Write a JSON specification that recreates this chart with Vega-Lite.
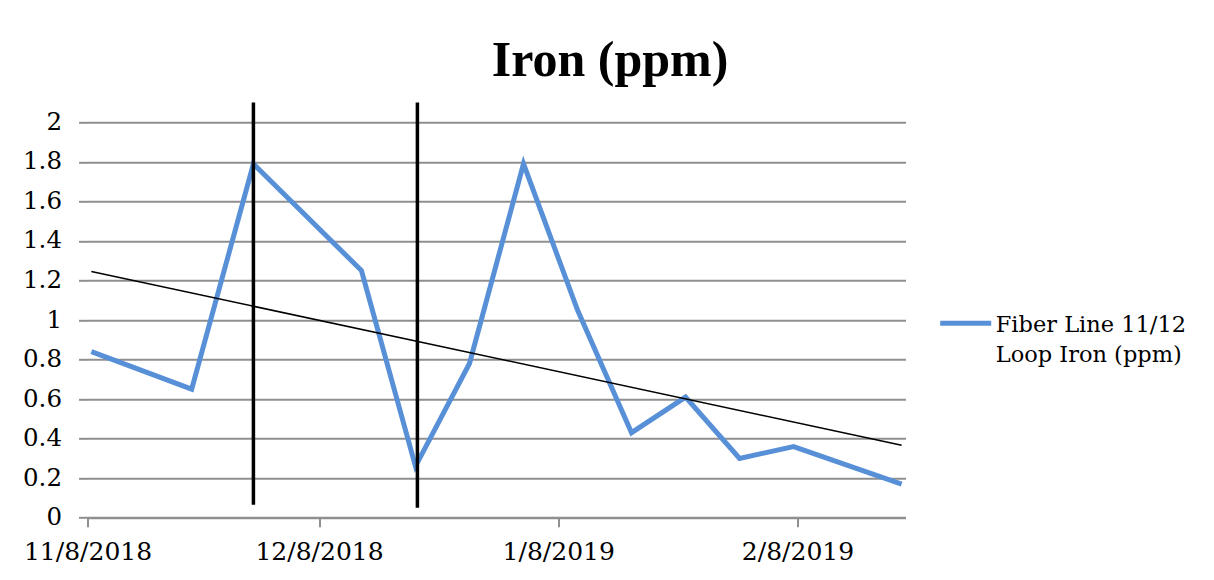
{
  "$schema": "https://vega.github.io/schema/vega-lite/v6.json",
  "width": 818,
  "height": 395.4,
  "autosize": {"type": "none"},
  "padding": {"left": 87.5, "top": 122.3, "right": 308.5, "bottom": 62.3},
  "background": "white",
  "config": {"view": {"stroke": null}, "font": "DejaVu Serif"},
  "title": {
    "text": "Iron (ppm)",
    "font": "Liberation Serif",
    "fontSize": 50,
    "fontWeight": "bold",
    "color": "black",
    "anchor": "middle",
    "dx": 113.5,
    "baseline": "alphabetic",
    "offset": -25
  },
  "data": {
    "values": [
      {"date": "2018-11-08T12:00", "iron": 0.84, "series": "Fiber Line 11/12 Loop Iron (ppm)"},
      {"date": "2018-11-21T12:00", "iron": 0.65, "series": "Fiber Line 11/12 Loop Iron (ppm)"},
      {"date": "2018-11-29T12:00", "iron": 1.79, "series": "Fiber Line 11/12 Loop Iron (ppm)"},
      {"date": "2018-12-13T12:00", "iron": 1.25, "series": "Fiber Line 11/12 Loop Iron (ppm)"},
      {"date": "2018-12-20T12:00", "iron": 0.26, "series": "Fiber Line 11/12 Loop Iron (ppm)"},
      {"date": "2018-12-27T12:00", "iron": 0.78, "series": "Fiber Line 11/12 Loop Iron (ppm)"},
      {"date": "2019-01-03T12:00", "iron": 1.79, "series": "Fiber Line 11/12 Loop Iron (ppm)"},
      {"date": "2019-01-10T12:00", "iron": 1.05, "series": "Fiber Line 11/12 Loop Iron (ppm)"},
      {"date": "2019-01-17T12:00", "iron": 0.43, "series": "Fiber Line 11/12 Loop Iron (ppm)"},
      {"date": "2019-01-24T12:00", "iron": 0.61, "series": "Fiber Line 11/12 Loop Iron (ppm)"},
      {"date": "2019-01-31T12:00", "iron": 0.30, "series": "Fiber Line 11/12 Loop Iron (ppm)"},
      {"date": "2019-02-07T12:00", "iron": 0.36, "series": "Fiber Line 11/12 Loop Iron (ppm)"},
      {"date": "2019-02-21T12:00", "iron": 0.17, "series": "Fiber Line 11/12 Loop Iron (ppm)"}
    ],
    "format": {"parse": {"date": "date"}}
  },
  "layer": [
    {
      "mark": {"type": "line", "strokeWidth": 5, "strokeJoin": "miter"},
      "encoding": {
        "x": {
          "field": "date",
          "type": "temporal",
          "scale": {"domain": [{"year": 2018, "month": 11, "date": 8}, {"year": 2019, "month": 2, "date": 22}]},
          "axis": {
            "title": null,
            "values": [
              {"year": 2018, "month": 11, "date": 8},
              {"year": 2018, "month": 12, "date": 8},
              {"year": 2019, "month": 1, "date": 8},
              {"year": 2019, "month": 2, "date": 8}
            ],
            "format": "%-m/%-d/%Y",
            "grid": false,
            "domainColor": "#8f8f8f",
            "domainWidth": 2,
            "tickColor": "#8f8f8f",
            "tickWidth": 2,
            "tickSize": 9,
            "labelFont": "DejaVu Serif",
            "labelFontSize": 25,
            "labelColor": "black",
            "labelPadding": 13,
            "labelFlush": false,
            "labelOverlap": false
          }
        },
        "y": {
          "field": "iron",
          "type": "quantitative",
          "scale": {"domain": [0, 2], "nice": false, "zero": true},
          "axis": {
            "title": null,
            "values": [0, 0.2, 0.4, 0.6, 0.8, 1, 1.2, 1.4, 1.6, 1.8, 2],
            "tickCount": 11,
            "format": "~g",
            "domain": false,
            "grid": true,
            "gridColor": "#8f8f8f",
            "gridWidth": 2,
            "tickColor": "#8f8f8f",
            "tickWidth": 2,
            "tickSize": 9,
            "labelFont": "DejaVu Serif",
            "labelFontSize": 24.5,
            "labelColor": "black",
            "labelPadding": 17,
            "labelOverlap": false
          }
        },
        "color": {
          "field": "series",
          "type": "nominal",
          "scale": {"range": ["#5890D8"]},
          "legend": {
            "title": null,
            "orient": "none",
            "legendX": 850.2,
            "legendY": 173,
            "padding": 0,
            "symbolType": "stroke",
            "symbolSize": 2601,
            "symbolStrokeWidth": 5,
            "labelFont": "DejaVu Serif",
            "labelFontSize": 22.5,
            "labelColor": "black",
            "labelOffset": 2,
            "labelLimit": 400,
            "labelExpr": "['Fiber Line 11/12', 'Loop Iron (ppm)']",
            "encode": {"labels": {"update": {"dy": {"value": 2}, "lineHeight": {"value": 30}}}}
          }
        }
      }
    },
    {
      "transform": [{"regression": "iron", "on": "date"}],
      "mark": {"type": "line", "color": "black", "strokeWidth": 1.5},
      "encoding": {
        "x": {"field": "date", "type": "temporal"},
        "y": {
          "field": "iron",
          "type": "quantitative",
          "axis": {
            "title": null,
            "values": [0, 0.2, 0.4, 0.6, 0.8, 1, 1.2, 1.4, 1.6, 1.8, 2],
            "tickCount": 11,
            "labelOverlap": false
          }
        }
      }
    },
    {
      "data": {
        "values": [
          {"date": "2018-11-29T12:00", "lo": 0.065, "hi": 2.1},
          {"date": "2018-12-20T18:00", "lo": 0.05, "hi": 2.1}
        ],
        "format": {"parse": {"date": "date"}}
      },
      "mark": {"type": "rule", "color": "black", "strokeWidth": 3.5},
      "encoding": {
        "x": {"field": "date", "type": "temporal"},
        "y": {
          "field": "lo",
          "type": "quantitative",
          "axis": {
            "title": null,
            "values": [0, 0.2, 0.4, 0.6, 0.8, 1, 1.2, 1.4, 1.6, 1.8, 2],
            "tickCount": 11,
            "labelOverlap": false
          }
        },
        "y2": {"field": "hi"}
      }
    }
  ]
}
